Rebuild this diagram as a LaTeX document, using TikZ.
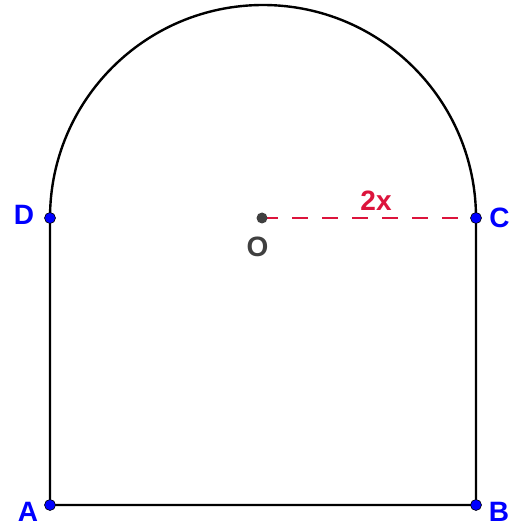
\documentclass[tikz,border=0pt]{standalone}
\usepackage{fontspec}
\setmainfont{Liberation Sans}
\definecolor{ptblue}{RGB}{0,0,255}
\definecolor{ptred}{RGB}{220,20,60}
\definecolor{ptgray}{RGB}{64,64,64}
\begin{document}
\begin{tikzpicture}[x=1pt,y=-1pt,
  edge/.style={line width=2.4pt,black},
  pt/.style={circle,fill=ptblue,draw=black,line width=0.6pt,inner sep=0pt,minimum size=11pt},
  lbl/.style={text=ptblue,font=\fontsize{28}{28}\selectfont\bfseries,inner sep=0pt}]
\useasboundingbox (0,0) rectangle (523,526);
\coordinate (A) at (50,505);
\coordinate (B) at (476,505);
\coordinate (C) at (476,218);
\coordinate (D) at (50,218);
\coordinate (O) at (262,218);
\draw[edge] (C) -- (B) -- (A) -- (D) arc[start angle=180,end angle=0,radius=213pt];
\draw[ptred,line width=2.4pt,dash pattern=on 16pt off 14pt] (O) -- (C);
\node[circle,fill=ptgray,inner sep=0pt,minimum size=11pt] (Op) at (O) {};
\node[pt] (Ap) at (A) {};
\node[pt] (Bp) at (B) {};
\node[pt] (Cp) at (C) {};
\node[pt] (Dp) at (D) {};
\node[lbl] (Al) at (28,512) {A};
\node[lbl] (Bl) at (499,512) {B};
\node[lbl] (Cl) at (499.5,217.5) {C};
\node[lbl] (Dl) at (24,214.5) {D};
\node[lbl,text=ptgray] (Ol) at (257.5,246.5) {O};
\node[lbl,text=ptred] (xl) at (376,200.5) {2x};
\end{tikzpicture}
\end{document}
